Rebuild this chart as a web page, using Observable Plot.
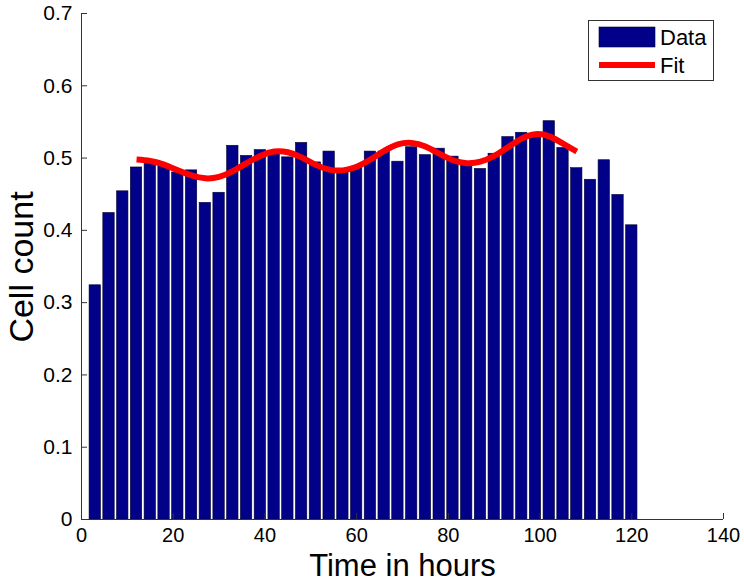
<!DOCTYPE html>
<html><head><meta charset="utf-8">
<script src="https://cdn.jsdelivr.net/npm/d3@7"></script>
<script src="https://cdn.jsdelivr.net/npm/@observablehq/plot@0.6"></script>
<style>body{margin:0;background:#fff;} svg{display:block}</style>
</head><body><div id="chart"></div>
<script>
const hours = [3,6,9,12,15,18,21,24,27,30,33,36,39,42,45,48,51,54,57,60,63,66,69,72,75,78,81,84,87,90,93,96,99,102,105,108,111,114,117,120];
const counts = [0.324,0.424,0.454,0.487,0.495,0.489,0.480,0.483,0.438,0.452,0.517,0.503,0.511,0.507,0.501,0.521,0.494,0.509,0.484,0.488,0.509,0.509,0.495,0.515,0.504,0.513,0.502,0.492,0.485,0.506,0.529,0.535,0.532,0.551,0.514,0.486,0.470,0.497,0.449,0.407];
const fitHours = [12,15,18,21,24,27,30,33,36,39,42,45,48,51,54,57,60,63,66,69,72,75,78,81,84,87,90,93,96,99,102,105,108];
const fitValues = [0.498,0.496,0.491,0.483,0.476,0.472,0.474,0.482,0.493,0.503,0.509,0.508,0.501,0.491,0.484,0.483,0.488,0.498,0.510,0.519,0.521,0.516,0.506,0.497,0.493,0.495,0.503,0.515,0.527,0.533,0.530,0.520,0.509];
const xTicks = [0,20,40,60,80,100,120,140];
const yTicks = [0,0.1,0.2,0.3,0.4,0.5,0.6,0.7];
const legendLabels = ["Data","Fit"];
const xTitle = "Time in hours";
const yTitle = "Cell count";
const binWidth = 3;
const barColor = "#000088";
const fitColor = "#ff0000";
const font = "'Liberation Sans', Arial, sans-serif";

const bars = hours.map((h,i)=>({h, c: counts[i]}));
const fit = fitHours.map((h,i)=>({h, v: fitValues[i]}));

const chart = Plot.plot({
  width:744, height:582, marginLeft:81, marginRight:21, marginTop:13, marginBottom:63,
  style:{fontFamily:font, background:"#fff", color:"#000"},
  x:{domain:[0,140]}, y:{domain:[0,0.7]},
  marks:[
    Plot.rectY(bars,{x1:d=>d.h-binWidth/2, x2:d=>d.h+binWidth/2, y:"c", fill:barColor, stroke:"#000033", strokeWidth:0.6, insetLeft:1.2, insetRight:1.2}),
    Plot.line(fit,{x:"h",y:"v",stroke:fitColor,strokeWidth:6,curve:"natural",strokeLinecap:"butt"}),
    Plot.ruleX([0],{stroke:"#333"}),
    Plot.ruleY([0],{stroke:"#333"}),
    Plot.axisX(xTicks,{tickSize:-6, tickPadding:14, fontSize:20, label:null, stroke:"#333", tickFormat:d=>String(d)}),
    Plot.axisY(yTicks,{tickSize:-6, tickPadding:15, fontSize:21, label:null, stroke:"#333", tickFormat:d=>String(d)}),
    Plot.text([xTitle],{frameAnchor:"bottom", dy:56, fontSize:31})
  ]
});
document.getElementById("chart").append(chart);

const svg = d3.select(chart);
// y-axis title
svg.append("text").attr("transform","translate(33,267) rotate(-90)")
  .attr("text-anchor","middle").attr("font-family",font).attr("font-size",34).attr("fill","#000").text(yTitle);

// legend
const lg = svg.append("g").attr("font-family",font).attr("font-size",22).attr("text-anchor","start");
lg.append("rect").attr("x",588.5).attr("y",20.5).attr("width",125).attr("height",60).attr("fill","#fff").attr("stroke","#333");
lg.append("rect").attr("x",599).attr("y",27).attr("width",56).attr("height",20).attr("fill",barColor).attr("stroke","#000033").attr("stroke-width",0.6);
lg.append("line").attr("x1",599).attr("x2",655).attr("y1",65).attr("y2",65).attr("stroke",fitColor).attr("stroke-width",6);
lg.append("text").attr("x",660).attr("y",45).attr("font-size",22).attr("text-anchor","start").attr("fill","#000").text(legendLabels[0]);
lg.append("text").attr("x",660).attr("y",73).attr("font-size",22).attr("text-anchor","start").attr("fill","#000").text(legendLabels[1]);
</script>
</body></html>
